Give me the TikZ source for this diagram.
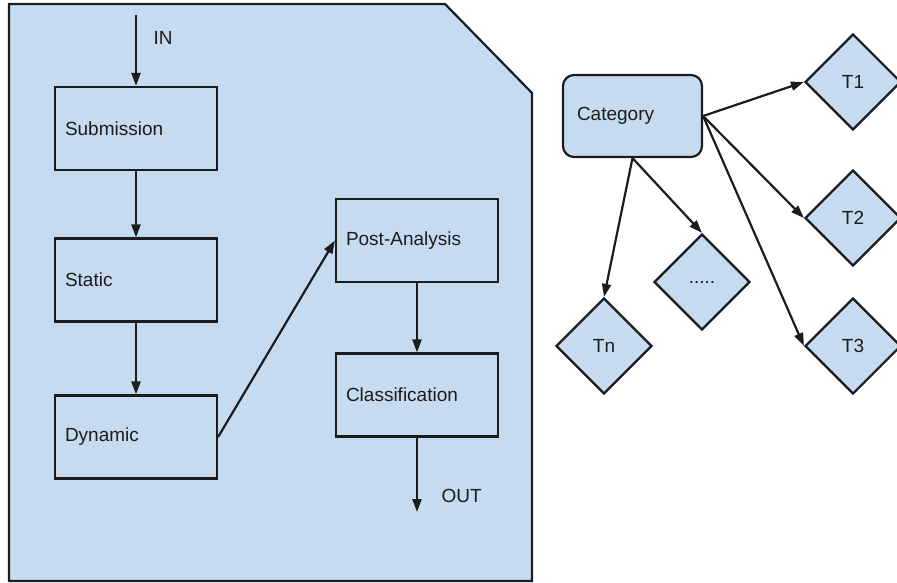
\documentclass[tikz,border=0pt]{standalone}
\usepackage{fontspec}
\setmainfont{Liberation Sans}
\usetikzlibrary{shapes.geometric,arrows.meta}
\definecolor{paleblue}{RGB}{198,218,240}
\definecolor{ink}{RGB}{28,28,28}
\tikzset{
  base/.style={font=\fontsize{19}{23}\selectfont, text=ink},
  stage/.style={base, draw=ink, line width=2.2pt, fill=paleblue, rectangle,
    minimum width=162pt, minimum height=83pt, text width=142pt, align=left, inner sep=0pt},
  catbox/.style={base, draw=ink, line width=2.2pt, fill=paleblue, rectangle, rounded corners=11pt,
    minimum width=139pt, minimum height=82pt, text width=111pt, align=left, inner sep=0pt},
  leaf/.style={base, draw=ink, line width=2.2pt, fill=paleblue, diamond, aspect=1,
    minimum width=96pt, minimum height=96pt, inner sep=0pt},
  arr/.style={draw=ink, line width=2.2pt, -{Triangle[length=13pt,width=9pt]}},
  tag/.style={base, anchor=west}
}
\begin{document}
\begin{tikzpicture}[x=1pt,y=-1pt]
\useasboundingbox (0,0) rectangle (897,583);
% container panel with clipped corner
\draw[draw=ink, line width=2.2pt, fill=paleblue]
  (9,4) -- (445,4) -- (532,93) -- (532,581) -- (9,581) -- cycle;

% pipeline stages
\node[stage] (sub)  at (136,128.5) {Submission};
\node[stage] (stat) at (136,280)   {Static};
\node[stage] (dyn)  at (136,437)   {Dynamic};
\node[stage] (post) at (417,240.5) {Post-Analysis};
\node[stage] (cls)  at (417,395)   {Classification};

\coordinate (in)  at (136,15);
\coordinate (out) at (417,512);
\node[tag] (inlbl)  at (150,38)  {IN};
\node[tag] (outlbl) at (438,496) {OUT};

\draw[arr] (in) -- (sub);
\draw[arr] (sub) -- (stat);
\draw[arr] (stat) -- (dyn);
\draw[arr] (dyn.east) -- (post.west);
\draw[arr] (post) -- (cls);
\draw[arr] (cls) -- (out);

% category tree
\node[catbox] (cat) at (632.5,116) {Category};
\node[leaf] (t1)   at (853,82)  {T1};
\node[leaf] (t2)   at (853,218) {T2};
\node[leaf] (t3)   at (853,346) {T3};
\node[leaf] (dots) at (702,282) {.....};
\node[leaf] (tn)   at (604,346) {Tn};

\draw[arr] (cat.east) -- (t1.west);
\draw[arr] (cat.east) -- (t2.west);
\draw[arr] (cat.east) -- (t3.west);
\draw[arr] (cat.south) -- (dots.north);
\draw[arr] (cat.south) -- (tn.north);
\end{tikzpicture}
\end{document}
